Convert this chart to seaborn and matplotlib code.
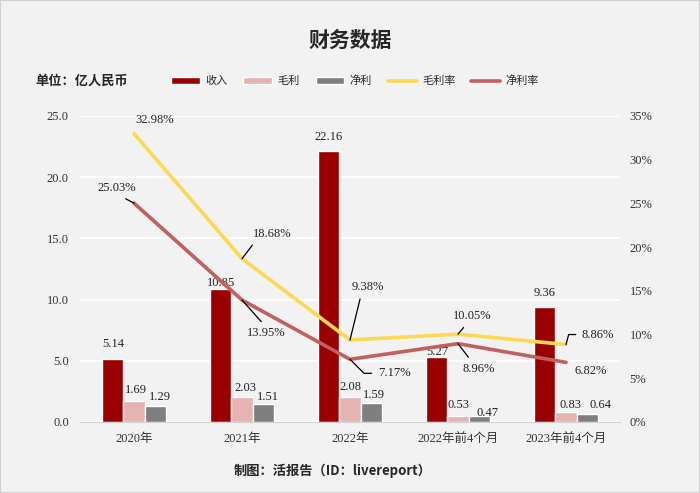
import numpy as np
import pandas as pd
import seaborn as sns
import matplotlib.pyplot as plt
from matplotlib.patches import Patch, Rectangle
from matplotlib.lines import Line2D

# Chart data
periods = ['2020年', '2021年', '2022年', '2022年前4个月', '2023年前4个月']
revenue = [5.14, 10.85, 22.16, 5.27, 9.36]
gross_profit = [1.69, 2.03, 2.08, 0.53, 0.83]
net_profit = [1.29, 1.51, 1.59, 0.47, 0.64]
gross_margin = [32.98, 18.68, 9.38, 10.05, 8.86]
net_margin = [25.03, 13.95, 7.17, 8.96, 6.82]
bar_series = ['收入', '毛利', '净利']
line_series = ['毛利率', '净利率']

BG = '#f2f2f2'
BAR_COLORS = ['#9b0000', '#e6b3b3', '#7f7f7f']
GM_COLOR = '#fdd853'
NM_COLOR = '#c0605f'
NUM_FONT = ['Liberation Serif', 'DejaVu Serif']
TICK_FONT = ['Liberation Serif', 'Noto Sans CJK SC']

# label offsets in pixels (dx, dy) from the bar top / line point
bar_label_offsets = [
    [(0, 15), (0, 6), (0, 14), (0, 5), (0, 14)],
    [(2, 11), (3, 9), (0, 10), (0, 11), (4, 7)],
    [(5, 9), (5, 7), (3, 8), (9, 3), (13, 9)],
]
# (dx, dy, relpos or None, connectionstyle)
gm_label_layout = [
    (21, 14, None, None),
    (30, 25, (0.1, 0), None),
    (18, 53, (0.3, 0), None),
    (14, 18, (0.4, 0), None),
    (32, 10, (0, 0.5), 'angle,angleA=0,angleB=75,rad=0'),
]
nm_label_layout = [
    (-17, 15, (0.5, 0), None),
    (24, -33, (0.5, 1), None),
    (44, -14, (0, 0.5), 'angle,angleA=0,angleB=-45,rad=0'),
    (21, -25, (0.3, 1), None),
    (25, -9, None, None),
]


def add_line_labels(ax, values, layout):
    for i, (v, (dx, dy, rel, conn)) in enumerate(zip(values, layout)):
        arrow = None
        if rel is not None:
            arrow = dict(arrowstyle='-', color='black', lw=0.9, relpos=rel,
                         shrinkA=2, shrinkB=0)
            if conn:
                arrow['connectionstyle'] = conn
        ax.annotate(f'{v:.2f}%', xy=(i, v), xytext=(dx, dy),
                    textcoords='offset pixels', ha='center', va='center',
                    fontsize=9, fontfamily=NUM_FONT, color='#222222',
                    arrowprops=arrow, zorder=5)


def plot_financials():
    sns.set_style('white', {'axes.facecolor': BG, 'figure.facecolor': BG})
    plt.rcParams['font.family'] = ['Noto Sans CJK SC', 'DejaVu Sans']

    fig = plt.figure(figsize=(7, 4.93), dpi=100, facecolor=BG)
    ax = fig.add_axes([80 / 700, 1 - 422 / 493, 540 / 700, 306 / 493])
    ax.set_facecolor(BG)

    df = pd.DataFrame({
        'period': periods * 3,
        'series': np.repeat(bar_series, len(periods)),
        'value': revenue + gross_profit + net_profit,
    })
    sns.barplot(data=df, x='period', y='value', hue='series',
                hue_order=bar_series, palette=BAR_COLORS, width=0.585,
                gap=0, saturation=1, legend=False, ax=ax, zorder=2)

    # bar value labels
    for cont, offsets in zip(ax.containers, bar_label_offsets):
        for bar, (dx, dy) in zip(cont, offsets):
            h = bar.get_height()
            ax.annotate(f'{h:.2f}', xy=(bar.get_x() + bar.get_width() / 2, h),
                        xytext=(dx, dy), textcoords='offset pixels',
                        ha='center', va='center', fontsize=9,
                        fontfamily=NUM_FONT, color='#222222', zorder=4)

    ax.set_xlim(-0.5, 4.5)
    ax.set_ylim(0, 25)
    ax.set_yticks(np.arange(0, 26, 5))
    ax.set_yticklabels([f'{v:.1f}' for v in np.arange(0, 26, 5)],
                       fontfamily=NUM_FONT, fontsize=9, color='#333333')
    ax.set_xticks(range(len(periods)))
    ax.set_xticklabels(periods, fontfamily=TICK_FONT, fontsize=9, color='#333333')
    ax.tick_params(axis='both', length=0)
    ax.tick_params(axis='y', pad=8)
    ax.tick_params(axis='x', pad=8)
    ax.set_xlabel('')
    ax.set_ylabel('')
    ax.yaxis.grid(True, color='white', lw=1.3)
    ax.set_axisbelow(True)
    for side in ['top', 'right', 'left']:
        ax.spines[side].set_visible(False)
    ax.spines['bottom'].set_color('#d0d0d0')

    # margin lines on the secondary axis
    ax2 = ax.twinx()
    x = np.arange(len(periods))
    sns.lineplot(x=x, y=gross_margin, color=GM_COLOR, lw=2.6, ax=ax2)
    sns.lineplot(x=x, y=net_margin, color=NM_COLOR, lw=2.6, ax=ax2)
    ax2.set_ylim(0, 35)
    ax2.set_yticks(np.arange(0, 36, 5))
    ax2.set_yticklabels([f'{v}%' for v in range(0, 36, 5)],
                        fontfamily=TICK_FONT, fontsize=9, color='#333333')
    ax2.tick_params(axis='y', length=0, pad=7)
    ax2.set_xlim(-0.5, 4.5)
    for side in ax2.spines:
        ax2.spines[side].set_visible(False)

    add_line_labels(ax2, gross_margin, gm_label_layout)
    add_line_labels(ax2, net_margin, nm_label_layout)

    # header, legend and footer
    fig.text(0.5, 1 - 40 / 493, '财务数据', ha='center', va='center',
             fontsize=15, fontweight='bold')
    fig.text(35 / 700, 1 - 81 / 493, '单位：亿人民币', ha='left', va='center',
             fontsize=9.5, fontweight='bold')
    fig.text(333 / 700, 1 - 471 / 493, '制图：活报告（ID：livereport）',
             ha='center', va='center', fontsize=9.5, fontweight='bold')

    handles = [Patch(facecolor=c) for c in BAR_COLORS] + \
              [Line2D([], [], color=GM_COLOR, lw=2.6),
               Line2D([], [], color=NM_COLOR, lw=2.6)]
    fig.legend(handles, bar_series + line_series, loc='center',
               bbox_to_anchor=(355 / 700, 1 - 81 / 493), ncol=5, frameon=False,
               fontsize=8, handlelength=2.6, handleheight=0.6,
               handletextpad=0.5, columnspacing=1.4)

    fig.patches.append(Rectangle((0, 0), 1, 1, transform=fig.transFigure,
                                 fill=False, edgecolor='#d0d0d0', lw=1.5))

    fig.savefig('out.png', dpi=100, facecolor=BG)


if __name__ == '__main__':
    plot_financials()
